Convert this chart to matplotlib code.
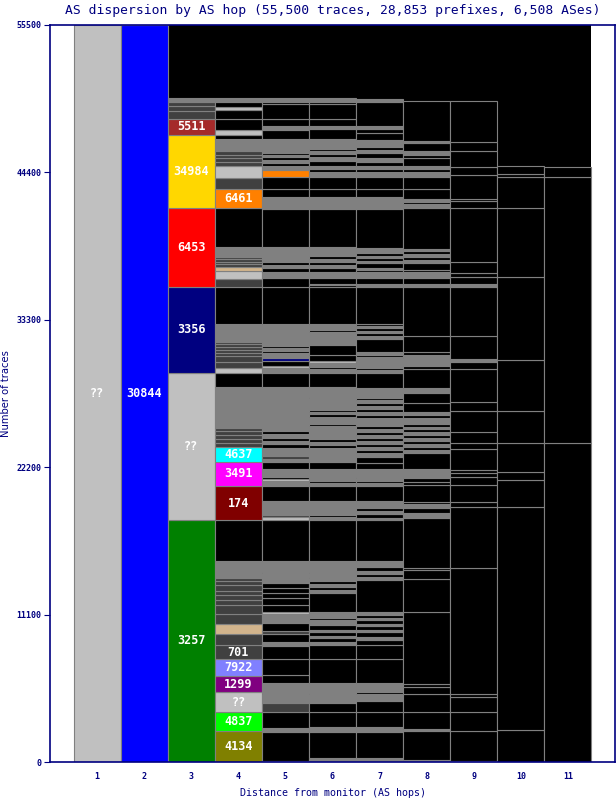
import matplotlib.pyplot as plt

# hops on the x axis
hops = list(range(1, 12))

# every column is a stack of AS blocks: upper edge of each block (traces), bottom -> top
hop1_tops = [55500]
hop1_colors = ['s']
hop2_tops = [55500]
hop2_colors = ['blue']

hop3_tops = [18225, 29296, 35795, 41722, 47242, 48424, 49049, 49426, 49704, 49982]
hop3_colors = ['green', 's', 'navy', 'red', 'gold', 'brown', 'd', 'd', 'd', 'g']

hop4_tops = [2297, 3728, 5234, 6499, 7734, 8789, 9617, 10370, 11123, 11846, 12178, 12554,
             12901, 13308, 13609, 13857, 15137, 18187,
             20809, 22616, 23745, 24031, 24317, 24604, 24890, 25176, 28219, 29296,
             29695, 30147, 30599, 30810, 31036, 31254, 31458, 31653, 32986, 35795,
             36375, 37000, 37301, 37489, 37678, 37866, 38055, 38763, 41722,
             43131, 44004, 44907, 45186, 45465, 45736, 46014, 46895, 47242,
             47596, 48424, 49102, 49350, 49681, 49982]
hop4_colors = ['olive', 'lime', 's', 'purple', '#8080ff', 'd', 'd', 'tan', 'd', 'd', 'd', 'd',
               'd', 'd', 'd', 'd', 'g', 'k',
               'maroon', 'magenta', 'cyan', 'd', 'd', 'd', 'd', 'd', 'g', 'k',
               's', 'd', 'd', 'd', 'd', 'd', 'd', 'd', 'g', 'k',
               'd', 's', 'tan', 'd', 'd', 'd', 'd', 'g', 'k',
               '#ff8000', 'd', 's', 'd', 'd', 'd', 'd', 'g', 'k',
               's', 'k', 'k', 's', 'k', 'g']

hop5_tops = [98, 2282, 2538, 3743, 4466, 5121, 5219, 5972, 6552, 7734,
             8759, 9060, 9640, 9888, 10446, 11146, 11319, 11824, 12351, 12728,
             13104, 13503, 14211, 14332, 15137, 18187,
             18473, 18602, 19656, 20809, 21162, 21313, 21486, 22066, 22616, 22797,
             23045, 23624, 23948, 24174, 24400, 24701, 24927, 25131, 28219, 29296,
             29650, 29846, 30200, 30448, 30802, 30953, 31179, 31329, 31653, 32986, 35795,
             36427, 36924, 37202, 37428, 37654, 37754, 38763, 41669, 42528, 43153,
             44034, 44583, 44885, 45110, 45336, 45562, 45713, 45886, 46895, 47596,
             47897, 48402, 49553, 49704, 50005]
hop5_colors = ['s', 'k', 'g', 'k', 'd', 'g', 'k', 'g', 'k', 'k',
               'k', 'g', 'k', 'd', 'k', 'g', 's', 'k', 'k', 'k',
               'k', 'k', 'g', 'k', 'g', 'k',
               's', 'd', 'g', 'k', 'g', 's', 'k', 'g', 'k', 'g',
               'd', 'g', 'k', 'g', 'k', 'g', 'k', 'g', 'g', 'k',
               'g', 's', 'k', 'navy', 'g', 'k', 'g', 'k', 'g', 'g', 'k',
               'k', 'g', 'k', 'g', 'k', 'g', 'g', 'k', 'g', 'k',
               'k', '#ff8000', 'g', 'k', 'g', 'k', 'g', 'k', 'g', 'k',
               'g', 'k', 'k', 'k', 'g']

hop6_tops = [279, 2282, 2613, 3788, 4466, 5121, 5219, 5972, 7734, 8811,
             9060, 9338, 9489, 9790, 9941, 10317, 10694, 10845, 11319, 12705,
             12954, 13179, 13405, 13631, 13857, 13955, 14211, 14332, 15137, 18187,
             18473, 18602, 19656, 20809, 21012, 21162, 21388, 21486, 22066, 22616,
             23624, 23873, 24099, 24325, 24626, 25304, 25455, 26004, 26208, 26359,
             26509, 27390, 27466, 28219, 29296,
             29595, 29746, 30048, 30200, 30652, 31383, 31834, 32406, 32534, 32986, 35795,
             35923, 35998, 36427, 36924, 37202, 37428, 37654, 37880, 38106, 38311,
             38763, 41669, 42528, 43153, 44034, 44410, 44636, 44885, 45239, 45540,
             45786, 46014, 46187, 46895, 47648, 47897, 48402, 49553, 49704, 49982]
hop6_colors = ['g', 'k', 'g', 'k', 'k', 'g', 'k', 'g', 'k', 'k',
               'g', 'k', 'g', 'k', 'g', 'k', 'g', 'k', 'g', 'k',
               'g', 'k', 'g', 'k', 'g', 'k', 'g', 'k', 'g', 'k',
               'g', 'k', 'g', 'k', 'g', 'k', 'g', 'k', 'g', 'k',
               'g', 'k', 'g', 'k', 'g', 'g', 'k', 'g', 'k', 'g',
               'k', 'g', 'k', 'g', 'k',
               'g', 'k', 'g', 's', 'k', 'k', 'g', 'g', 'k', 'g', 'k',
               'k', 's', 'k', 'g', 'k', 'g', 'k', 'g', 'k', 'g',
               'g', 'k', 'g', 'k', 'k', 'g', 'k', 'g', 'k', 'g',
               'k', 'g', 'k', 'g', 'k', 'g', 'k', 'k', 'k', 'g']

hop7_tops = [279, 2282, 2613, 3788, 4617, 5098, 5272, 5972, 7734, 8811,
             9188, 9436, 9790, 9941, 10242, 10393, 10694, 10845, 11071, 11319,
             13706, 13932, 14158, 14384, 14708, 15137, 18187,
             18377, 18677, 18903, 19107, 19656, 20809, 21012, 21162, 21350, 21486,
             22066, 22495, 22992, 23248, 23497, 23723, 23948, 24174, 24400, 24626,
             24852, 25078, 25304, 25455, 25884, 26133, 26359, 26585, 26811, 27036,
             27262, 27413, 27511, 28143, 29296,
             29522, 29673, 30026, 30147, 30524, 30652, 30900, 31880, 32082, 32308,
             32459, 32685, 32835, 32986, 35795,
             35998, 36427, 36924, 37052, 37165, 37602, 37692, 37956, 38106, 38332,
             38483, 38688, 41669, 42528, 43153, 44034, 44455, 44636, 44885, 45209,
             45465, 45841, 46089, 46338, 46843, 47347, 47648, 47897, 49704, 49907]
hop7_colors = ['g', 'k', 'g', 'k', 'k', 'g', 'k', 'g', 'k', 'k',
               'k', 'g', 'k', 'g', 'k', 'g', 'k', 'g', 'k', 'g',
               'k', 'g', 'k', 'g', 'k', 'g', 'k',
               'g', 'k', 'g', 'k', 'g', 'k', 'g', 'k', 'g', 'k',
               'g', 'k', 'k', 'g', 'k', 'g', 'k', 'g', 'k', 'g',
               'k', 'g', 'k', 'g', 'g', 'k', 'g', 'k', 'g', 'k',
               'g', 'k', 'g', 'g', 'k',
               'g', 'k', 'g', 'k', 'g', 'k', 'g', 'k', 'g', 'k',
               'g', 'k', 'g', 'k', 'k',
               'g', 'k', 'g', 'k', 'g', 'k', 'g', 'k', 'g', 'k',
               'g', 'g', 'k', 'g', 'k', 'k', 'g', 'k', 'g', 'k',
               'g', 'k', 'g', 'k', 'g', 'k', 'k', 'g', 'k', 'g']

hop8_tops = [151, 2357, 2485, 3788, 5098, 5671, 5874, 11274, 13759, 14460,
             14588, 18353, 18728,
             19107, 19430, 19604, 20861, 21111, 21365, 21486, 22066, 23248, 23497,
             23723, 23948, 24174, 24400, 24626, 24852, 25078, 25255, 25455, 25884,
             26133, 26381, 27014, 27767, 28143, 29574, 29823, 30426, 30524, 30652,
             30900, 32082, 35795,
             35998, 36427, 36924, 37052, 37602, 37805, 38031, 38257, 38446, 38612,
             41699, 41775, 42001, 42152, 42377, 43153, 44034, 44455, 44636, 44885,
             45465, 45713, 46014, 46639, 46767, 49756]
hop8_colors = ['g', 'k', 'g', 'k', 'k', 'k', 'k', 'k', 'k', 'k',
               'k', 'k', 'g',
               'k', 'g', 'k', 'k', 'k', 'k', 'k', 'g', 'k', 'g',
               'k', 'g', 'k', 'g', 'k', 'g', 'k', 'g', 'k', 'g',
               'k', 'g', 'k', 'k', 'g', 'k', 'k', 'g', 'k', 'g',
               'k', 'k', 'k',
               'g', 'k', 'g', 'k', 'k', 'g', 'k', 'g', 'k', 'g',
               'k', 'k', 'g', 'k', 'g', 'k', 'k', 'g', 'k', 'g',
               'k', 'k', 'g', 'k', 'g', 'k']

hop9_tops = [98, 2357, 3788, 4918, 5121, 14588, 19182, 19604, 20861, 21486,
             21788, 21990, 23549, 24046, 24875, 26434, 27089, 29574, 30147, 30328,
             32082, 35795, 35998, 36502, 36849, 37632, 41699, 42226, 42377, 44207,
             44832, 46014, 46714, 49756]
hop9_colors = ['k'] * 19 + ['g'] + ['k', 'k', 'g'] + ['k'] * 11

hop10_tops = [2410, 19182, 21237, 21863, 24046, 26434, 30275, 36502, 41699, 44034, 44282, 44885]
hop10_colors = ['k'] * 12

hop11_tops = [24046, 44034, 44832]
hop11_colors = ['k'] * 3

# AS labels written on the big blocks: (hop, block top, text)
label_hops = [1, 2, 3, 3, 3, 3, 3, 3,
              4, 4, 4, 4, 4, 4, 4, 4, 4, 4]
label_tops = [55500, 55500, 18225, 29296, 35795, 41722, 47242, 48424,
              2297, 3728, 5234, 6499, 7734, 8789, 20809, 22616, 23745, 43131]
label_texts = ['??', '30844', '3257', '??', '3356', '6453', '34984', '5511',
               '4134', '4837', '??', '1299', '7922', '701', '174', '3491', '4637', '6461']

y_ticks = [0, 11100, 22200, 33300, 44400, 55500]

palette = {'k': 'black', 'g': '#808080', 'd': '#404040', 's': '#c0c0c0',
           'green': '#008000', 'navy': '#000080', 'red': '#ff0000', 'gold': '#ffd700',
           'brown': '#a52a2a', 'olive': '#808000', 'lime': '#00ff00', 'purple': '#800080',
           'tan': '#d2b48c', 'maroon': '#800000', 'magenta': '#ff00ff', 'cyan': '#00ffff',
           'blue': '#0000ff'}

columns = [(hop1_tops, hop1_colors), (hop2_tops, hop2_colors), (hop3_tops, hop3_colors),
           (hop4_tops, hop4_colors), (hop5_tops, hop5_colors), (hop6_tops, hop6_colors),
           (hop7_tops, hop7_colors), (hop8_tops, hop8_colors), (hop9_tops, hop9_colors),
           (hop10_tops, hop10_colors), (hop11_tops, hop11_colors)]

navy = '#000080'
fig = plt.figure(figsize=(6.16, 8), dpi=100)
ax = fig.add_axes([50 / 616, 38 / 800, 565 / 616, 737 / 800])

# black backdrop behind the hop columns
ax.axvspan(0.5, 11.5, color='black', zorder=0, lw=0)

for hop, (tops, cols) in zip(hops, columns):
    bottoms = [0] + tops[:-1]
    heights = [t - b for t, b in zip(tops, bottoms)]
    ax.bar([hop] * len(tops), heights, bottom=bottoms, width=1,
           color=[palette.get(c, c) for c in cols],
           edgecolor='#808080', linewidth=0.8, zorder=2)

for hop, top, text in zip(label_hops, label_tops, label_texts):
    tops = columns[hop - 1][0]
    i = tops.index(top)
    bottom = tops[i - 1] if i > 0 else 0
    ax.text(hop, (top + bottom) / 2, text, color='white', ha='center', va='center',
            fontsize=8.5, fontweight='bold', family='DejaVu Sans Mono', zorder=3)

ax.set_xlim(0, 12)
ax.set_ylim(0, 55500)
ax.set_xticks(hops)
ax.set_xticklabels([str(h) for h in hops])
ax.set_yticks(y_ticks)
ax.set_yticklabels([str(t) for t in y_ticks])
ax.tick_params(axis='x', length=0, pad=7, colors=navy, labelsize=6)
ax.tick_params(axis='y', length=4, width=0.8, pad=2, colors=navy, labelsize=6)
for lab in ax.get_xticklabels() + ax.get_yticklabels():
    lab.set_family('DejaVu Sans Mono')
    lab.set_fontweight('bold')
for sp in ax.spines.values():
    sp.set_color(navy)
    sp.set_linewidth(1.2)

ax.set_title('AS dispersion by AS hop (55,500 traces, 28,853 prefixes, 6,508 ASes)',
             color=navy, fontsize=9.4, family='DejaVu Sans Mono', pad=8)
ax.set_xlabel('Distance from monitor (AS hops)', color=navy, fontsize=7.2,
              family='DejaVu Sans Mono', va='center')
ax.xaxis.set_label_coords(0.5, -31 / 737)
ax.set_ylabel('Number of traces', color=navy, fontsize=7.2, labelpad=4)

fig.savefig('out.png', dpi=100)
